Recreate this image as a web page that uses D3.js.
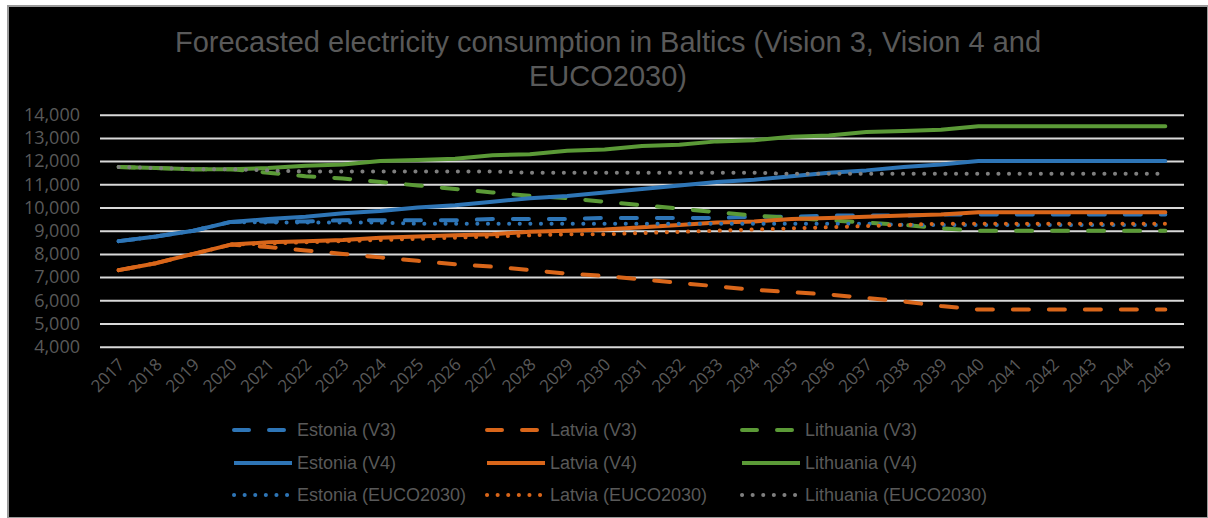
<!DOCTYPE html>
<html>
<head>
<meta charset="utf-8">
<script src="https://cdn.jsdelivr.net/npm/d3@7"></script>
<style>
  html, body { margin: 0; padding: 0; background: #fff; }
  svg { display: block; }
</style>
</head>
<body>
<div id="chart"></div>
<script>
// data
const years = ['2017','2018','2019','2020','2021','2022','2023','2024','2025','2026','2027','2028','2029','2030',
  '2031','2032','2033','2034','2035','2036','2037','2038','2039','2040','2041','2042','2043','2044','2045'];
const yTicks = [4000, 5000, 6000, 7000, 8000, 9000, 10000, 11000, 12000, 13000, 14000];

const estoniaV3 = [8550,8750,9000,9380,9400,9400,9450,9450,9450,9450,9500,9500,9500,9550,
  9550,9550,9550,9600,9600,9650,9650,9650,9700,9700,9700,9700,9700,9700,9700];
const latviaV3 = [7300,7600,8000,8400,8300,8150,8000,7850,7700,7550,7450,7300,7150,7050,
  6900,6750,6600,6450,6350,6250,6100,5950,5750,5600,5600,5600,5600,5600,5600];
const lithuaniaV3 = [11750,11700,11650,11650,11500,11350,11250,11100,10950,10800,10650,10500,10400,10250,
  10100,9950,9800,9650,9550,9450,9350,9250,9100,9000,9000,9000,9000,9000,9000];
const estoniaV4 = [8550,8750,9000,9380,9500,9600,9750,9850,10000,10100,10250,10400,10500,10650,
  10800,10950,11100,11200,11350,11500,11600,11750,11850,12000,12000,12000,12000,12000,12000];
const latviaV4 = [7300,7600,8000,8400,8500,8550,8600,8700,8750,8800,8850,8950,9000,9050,
  9150,9250,9350,9400,9500,9550,9600,9650,9700,9800,9800,9800,9800,9800,9800];
const lithuaniaV4 = [11750,11700,11650,11650,11700,11800,11850,12000,12050,12100,12250,12300,12450,12500,
  12650,12700,12850,12900,13050,13100,13250,13300,13350,13500,13500,13500,13500,13500,13500];
const estoniaEuco = [8550,8750,9000,9380,9350,9350,9350,9350,9300,9300,9300,9300,9300,9300,
  9300,9300,9300,9300,9300,9300,9300,9250,9250,9250,9250,9250,9250,9250,9250];
const latviaEuco = [7300,7600,8000,8400,8450,8500,8550,8600,8650,8700,8750,8800,8850,8850,
  8900,8950,9000,9050,9100,9150,9200,9250,9300,9300,9300,9300,9300,9300,9300];
const lithuaniaEuco = [11750,11700,11650,11650,11600,11550,11550,11550,11550,11550,11550,11500,11500,11500,
  11500,11500,11500,11500,11450,11450,11450,11450,11450,11450,11450,11450,11450,11450,11450];

const blue = '#2e75b6', orange = '#d9661a', green = '#5b9a37', grey = '#7f7f7f';
const dashed = '16 20', dotted = '0.1 10.5';

// legend order (row-wise) is also drawing order
const series = [
  { name: 'Estonia (V3)', values: estoniaV3, color: blue, dash: dashed },
  { name: 'Latvia (V3)', values: latviaV3, color: orange, dash: dashed },
  { name: 'Lithuania (V3)', values: lithuaniaV3, color: green, dash: dashed },
  { name: 'Estonia (V4)', values: estoniaV4, color: blue, dash: null },
  { name: 'Latvia (V4)', values: latviaV4, color: orange, dash: null },
  { name: 'Lithuania (V4)', values: lithuaniaV4, color: green, dash: null },
  { name: 'Estonia (EUCO2030)', values: estoniaEuco, color: blue, dash: dotted },
  { name: 'Latvia (EUCO2030)', values: latviaEuco, color: orange, dash: dotted },
  { name: 'Lithuania (EUCO2030)', values: lithuaniaEuco, color: grey, dash: dotted }
];

const width = 1208, height = 518;
const plot = { left: 100, right: 1184, top: 114.7, bottom: 346.7 };
const textColor = '#595959';
const narrow = '"Liberation Sans Narrow", "Liberation Sans", sans-serif';

const svg = d3.select('#chart').append('svg')
  .attr('width', width)
  .attr('height', height);

// frame
svg.append('rect')
  .attr('x', 8).attr('y', 6)
  .attr('width', width - 8).attr('height', height - 6)
  .attr('fill', '#000')
  .attr('stroke', '#9a9a9a')
  .attr('stroke-width', 2);

// title
const title = svg.append('text')
  .attr('text-anchor', 'middle')
  .attr('fill', textColor)
  .style('font-family', narrow)
  .style('font-size', '29px');
title.append('tspan').attr('x', 608).attr('y', 52)
  .text('Forecasted electricity consumption in Baltics (Vision 3, Vision 4 and');
title.append('tspan').attr('x', 608).attr('y', 86)
  .text('EUCO2030)');

const xScale = d3.scaleBand()
  .domain(years)
  .range([plot.left, plot.right]);

const yScale = d3.scaleLinear()
  .domain([4000, 14000])
  .range([plot.bottom, plot.top]);

// y axis: gridlines + labels
const yAxis = d3.axisLeft(yScale)
  .tickValues(yTicks)
  .tickFormat(d3.format(','))
  .tickSize(-(plot.right - plot.left))
  .tickPadding(20);

const yg = svg.append('g')
  .attr('transform', 'translate(' + plot.left + ',0)')
  .call(yAxis);
yg.select('.domain').remove();
yg.selectAll('line')
  .attr('stroke', '#d9d9d9')
  .attr('stroke-width', 2);
yg.selectAll('text')
  .attr('fill', textColor)
  .style('font-family', '"Open Sans", sans-serif')
  .style('font-size', '18px');

// x axis labels
const xAxis = d3.axisBottom(xScale).tickSize(0).tickPadding(0);
const xg = svg.append('g')
  .attr('transform', 'translate(0,' + plot.bottom + ')')
  .call(xAxis);
xg.select('.domain').remove();
xg.selectAll('text')
  .attr('fill', textColor)
  .attr('text-anchor', 'end')
  .attr('dy', null)
  .attr('transform', 'translate(7,19) rotate(-45)')
  .style('font-family', '"Open Sans", sans-serif')
  .style('font-size', '17px');

// lines
const line = d3.line()
  .x((d, i) => xScale(years[i]) + xScale.bandwidth() / 2)
  .y(d => yScale(d));

svg.append('g')
  .selectAll('path')
  .data(series)
  .enter().append('path')
  .attr('d', d => line(d.values))
  .attr('fill', 'none')
  .attr('stroke', d => d.color)
  .attr('stroke-width', 4)
  .attr('stroke-linecap', 'round')
  .attr('stroke-linejoin', 'round')
  .attr('stroke-dasharray', d => d.dash);

// legend, 3 columns x 3 rows
const legendCols = [232, 485, 740];
const legendRows = [430, 463, 495];
const legend = svg.append('g')
  .selectAll('g')
  .data(series)
  .enter().append('g')
  .attr('transform', (d, i) => 'translate(' + legendCols[i % 3] + ',' + legendRows[Math.floor(i / 3)] + ')');

legend.append('line')
  .attr('x1', 2)
  .attr('x2', d => d.dash === dotted ? 56 : 60)
  .attr('stroke', d => d.color)
  .attr('stroke-width', 4)
  .attr('stroke-linecap', d => d.dash === null ? 'butt' : 'round')
  .attr('stroke-dasharray', d => d.dash === dotted ? '0.1 10.5' : d.dash === dashed ? '15 20' : null);

legend.append('text')
  .attr('x', 65)
  .attr('y', 6)
  .attr('fill', textColor)
  .style('font-family', narrow)
  .style('font-size', '18px')
  .text(d => d.name);
</script>
</body>
</html>
